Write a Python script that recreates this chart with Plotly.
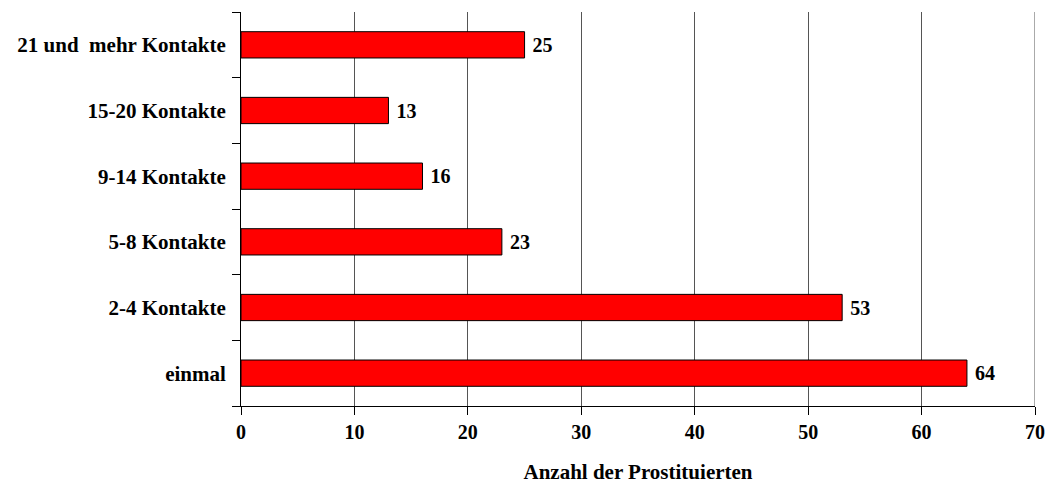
import plotly.graph_objects as go

# Data (bottom to top)
categories = [
    "einmal",
    "2-4 Kontakte",
    "5-8 Kontakte",
    "9-14 Kontakte",
    "15-20 Kontakte",
    "21 und\u00a0 mehr Kontakte",
]
counts = [64, 53, 23, 16, 13, 25]
x_ticks = [0, 10, 20, 30, 40, 50, 60, 70]

FONT = "Liberation Serif, Times New Roman, serif"
BAR_RED = "#ff0000"
GRID = "#555555"

fig = go.Figure()
fig.add_trace(
    go.Bar(
        y=categories,
        x=counts,
        orientation="h",
        marker=dict(color=BAR_RED, line=dict(color="black", width=1)),
        text=[f"<b>\u00a0{c}</b>" for c in counts],
        textposition="outside",
        textfont=dict(family=FONT, size=20, color="black"),
        cliponaxis=False,
        width=0.4,
    )
)

# gridline at the right end of the axis (plotly skips it at the range edge)
fig.add_shape(
    type="line",
    xref="x",
    yref="paper",
    x0=x_ticks[-1],
    x1=x_ticks[-1],
    y0=0,
    y1=1,
    line=dict(color=GRID, width=1),
    layer="below",
)

fig.update_layout(
    width=1050,
    height=486,
    plot_bgcolor="white",
    paper_bgcolor="white",
    showlegend=False,
    margin=dict(l=241, r=15, t=12, b=80),
    font=dict(family=FONT, size=20, color="black"),
)

fig.update_xaxes(
    range=[0, 70],
    tickvals=x_ticks,
    ticktext=[f"<b>{v}</b>" for v in x_ticks],
    ticks="outside",
    ticklen=8,
    tickcolor="black",
    showgrid=True,
    gridcolor=GRID,
    gridwidth=1,
    showline=True,
    linecolor="black",
    linewidth=1,
    zeroline=False,
    automargin=False,
    tickfont=dict(family=FONT, size=20),
    title=dict(text="<b>Anzahl der Prostituierten</b>", font=dict(family=FONT, size=21), standoff=22),
)

fig.update_yaxes(
    categoryorder="array",
    categoryarray=categories,
    ticks="outside",
    tickson="boundaries",
    ticklen=8,
    tickcolor="black",
    ticklabelstandoff=10,
    showline=True,
    linecolor="black",
    linewidth=1,
    showgrid=False,
    automargin=False,
    ticktext=[f"<b>{c}</b>" for c in categories],
    tickvals=categories,
    tickfont=dict(family=FONT, size=21),
)

# drop the default page margin so the figure fills the window exactly
fig.write_html(
    "out.html",
    config={"displayModeBar": False},
    post_script="document.body.style.margin='0';document.body.style.overflow='hidden';",
)
